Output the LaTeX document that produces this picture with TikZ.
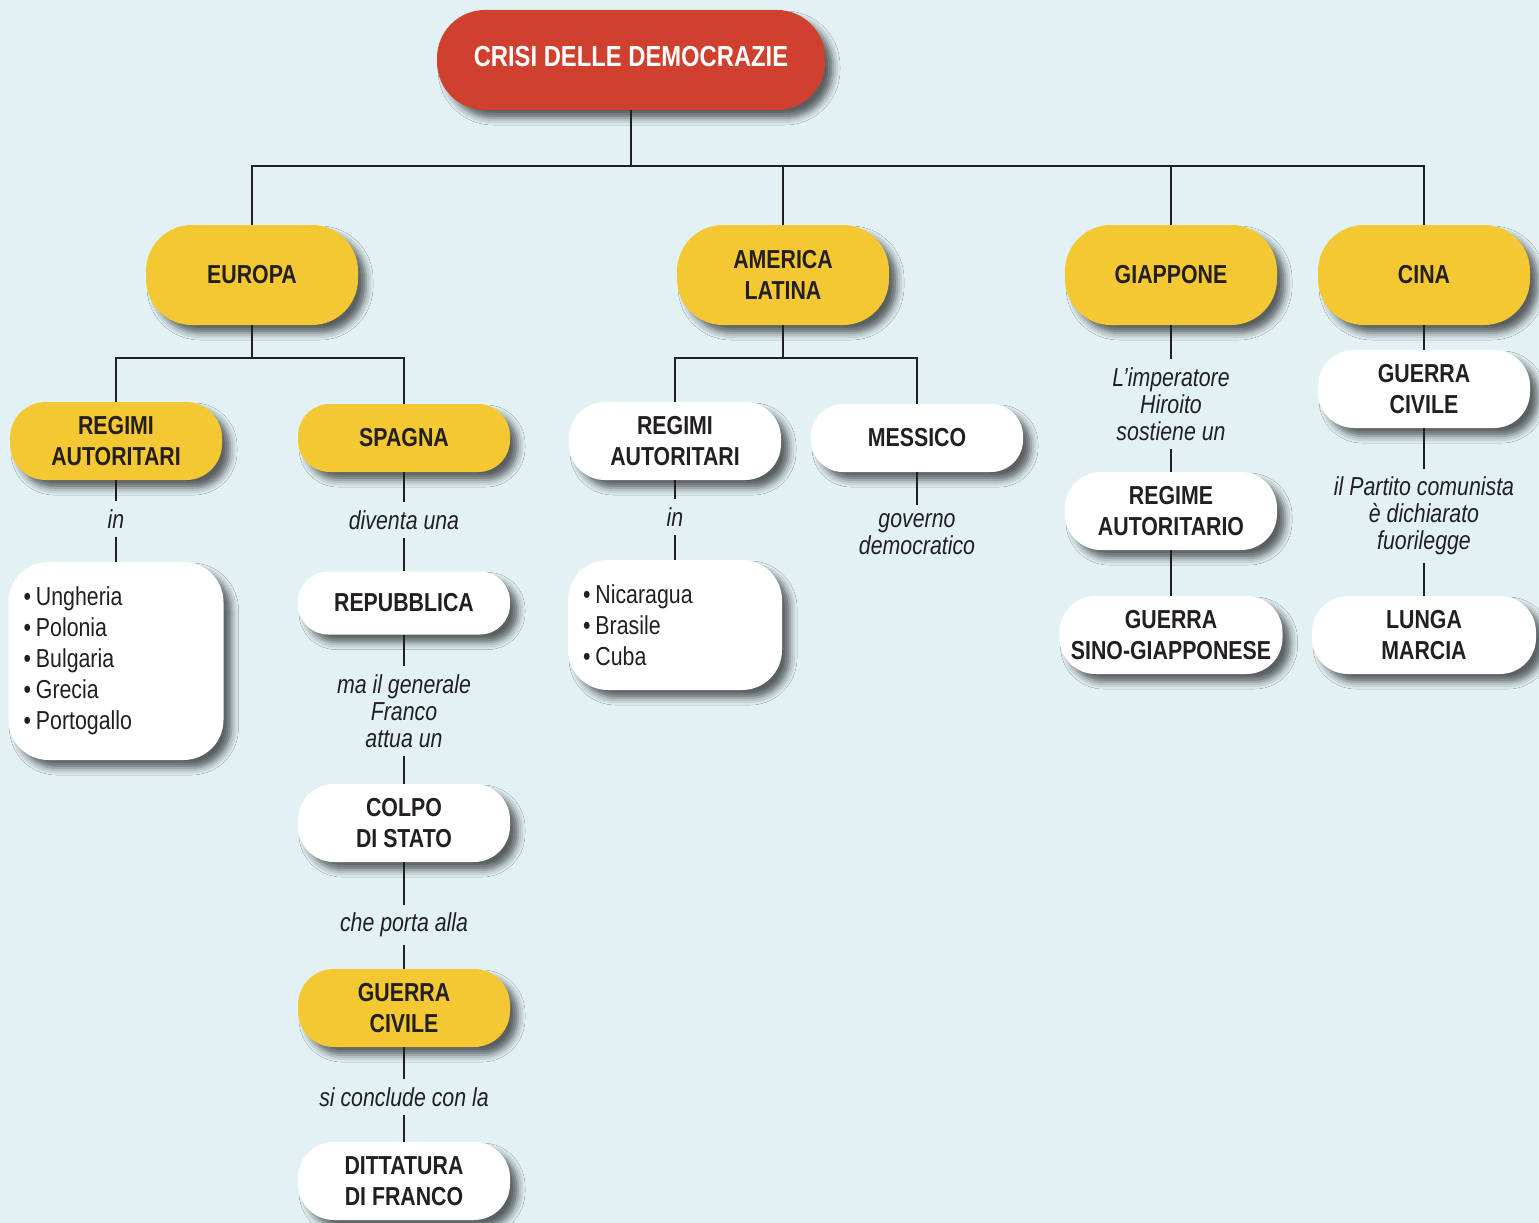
\documentclass[tikz,border=0pt]{standalone}
\usepackage{fontspec}
\setmainfont{Liberation Sans}[FakeStretch=0.82]
\usetikzlibrary{shadows.blur}
\definecolor{bgblue}{RGB}{226,241,243}
\definecolor{crisired}{RGB}{207,64,47}
\definecolor{mapyellow}{RGB}{243,200,50}
\definecolor{ink}{RGB}{35,31,32}
\begin{document}
\begin{tikzpicture}[x=1pt,y=-1pt,
  box/.style={rounded corners=36pt, minimum width=212pt, minimum height=78pt, inner sep=0pt,
    align=center, text=ink, font=\fontsize{26}{31}\selectfont\bfseries,
    blur shadow={shadow xshift=8pt, shadow yshift=-8pt, shadow blur radius=7pt, shadow opacity=60}},
  yellowbox/.style={box, fill=mapyellow},
  whitebox/.style={box, fill=white},
  listbox/.style={whitebox, rounded corners=40pt, align=left, text width=185pt, inner xsep=15pt,
    font=\fontsize{26}{31}\selectfont},
  verb/.style={align=center, text=ink, inner sep=8pt, font=\fontsize{26}{27}\selectfont\itshape},
  link/.style={draw=ink, line width=2pt}]
\useasboundingbox [fill=bgblue] (0,0) rectangle (1539,1223);
%
\node (crisi) at (631,60) [box, fill=crisired, text=white, minimum width=388pt, minimum height=100pt,
  rounded corners=48pt, font=\fontsize{29}{34}\selectfont\bfseries] {\raisebox{7pt}{CRISI DELLE DEMOCRAZIE}};
%
\node (europa)   at (252,275)  [yellowbox, minimum height=100pt, rounded corners=46pt] {EUROPA};
\node (america)  at (783,275)  [yellowbox, minimum height=100pt, rounded corners=46pt] {AMERICA\\LATINA};
\node (giappone) at (1171,275) [yellowbox, minimum height=100pt, rounded corners=46pt] {GIAPPONE};
\node (cina)     at (1424,275) [yellowbox, minimum height=100pt, rounded corners=46pt] {CINA};
%
\coordinate (top) at (631,166);
\draw [link] (crisi) -- (top);
\draw [link] (europa.north) |- (top) -| (cina.north);
\draw [link] (america) -- (america |- top);
\draw [link] (giappone) -- (giappone |- top);
%
% europa
\node (regeu)   at (116,441) [yellowbox] {REGIMI\\AUTORITARI};
\node (spagna)  at (404,438) [yellowbox, minimum height=68pt, rounded corners=32pt] {SPAGNA};
\coordinate (eu) at (252,358);
\draw [link] (europa) -- (eu);
\draw [link] (regeu.north) |- (eu) -| (spagna.north);
%
\node (ineu)    at (116,519)  [verb] {in};
\node (listeu)  at (116,661)  [listbox, minimum height=198pt]
  {•\kern5pt Ungheria\\•\kern5pt Polonia\\•\kern5pt Bulgaria\\•\kern5pt Grecia\\•\kern5pt Portogallo};
\draw [link] (regeu) -- (ineu) -- (listeu);
%
\node (diventa) at (404,520)  [verb] {diventa una};
\node (repub)   at (404,603)  [whitebox, minimum height=63pt, rounded corners=30pt] {REPUBBLICA};
\node (franco)  at (404,711)  [verb] {ma il generale\\Franco\\attua un};
\node (colpo)   at (404,823)  [whitebox] {COLPO\\DI STATO};
\node (porta)   at (404,925)  [verb] {che porta alla};
\node (guerraes) at (404,1008) [yellowbox] {GUERRA\\CIVILE};
\node (conclude) at (404,1097) [verb] {si conclude con la};
\node (dittatura) at (404,1181) [whitebox] {DITTATURA\\DI FRANCO};
\draw [link] (spagna) -- (diventa) -- (repub) -- (franco) -- (colpo) -- (porta)
  -- (guerraes) -- (conclude) -- (dittatura);
%
% america latina
\node (regam)   at (675,441)  [whitebox] {REGIMI\\AUTORITARI};
\node (messico) at (917,438)  [whitebox, minimum height=68pt, rounded corners=32pt] {MESSICO};
\coordinate (am) at (783,358);
\draw [link] (america) -- (am);
\draw [link] (regam.north) |- (am) -| (messico.north);
%
\node (inam)    at (675,517)  [verb] {in};
\node (listam)  at (675,625)  [listbox, minimum height=130pt, text width=184pt]
  {•\kern5pt Nicaragua\\•\kern5pt Brasile\\•\kern5pt Cuba};
\draw [link] (regam) -- (inam) -- (listam);
\node (governo) at (917,534)  [verb] {governo\\democratico};
\draw [link] (messico) -- (governo);
%
% giappone
\node (hiroito) at (1171,404) [verb] {L’imperatore\\Hiroito\\sostiene un};
\node (regjp)   at (1171,511) [whitebox] {REGIME\\AUTORITARIO};
\node (sino)    at (1171,635) [whitebox, minimum width=223pt] {GUERRA\\SINO-GIAPPONESE};
\draw [link] (giappone) -- (hiroito) -- (regjp) -- (sino);
%
% cina
\node (civile)  at (1424,389) [whitebox] {GUERRA\\CIVILE};
\node (partito) at (1424,516) [verb] {il Partito comunista\\è dichiarato\\fuorilegge};
\node (marcia)  at (1424,635) [whitebox, minimum width=224pt] {LUNGA\\MARCIA};
\draw [link] (cina) -- (civile) -- (partito) -- (marcia);
\end{tikzpicture}
\end{document}
